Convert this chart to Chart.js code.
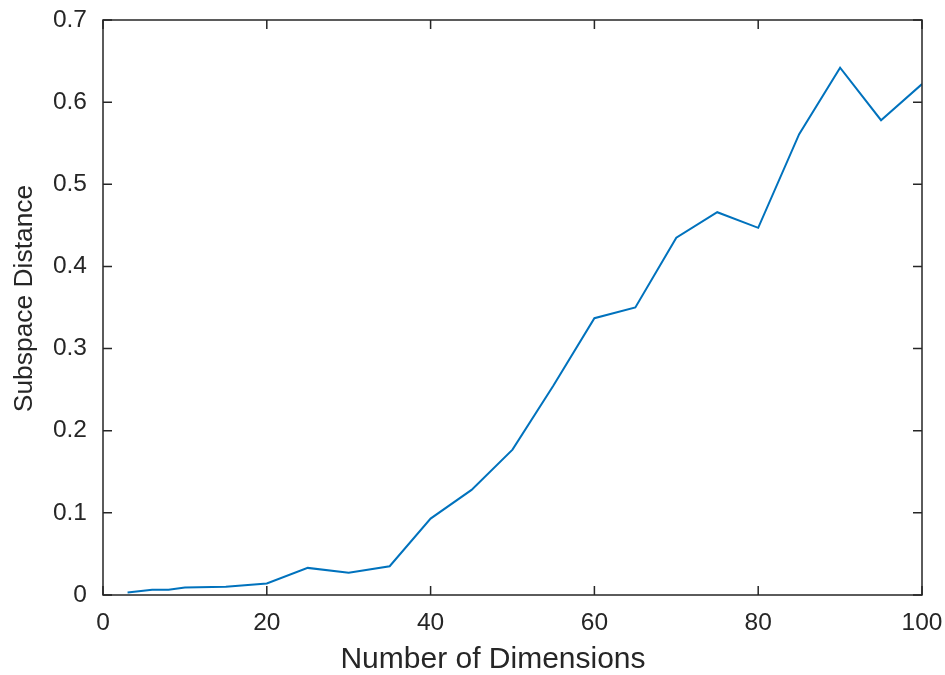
<!DOCTYPE html>
<html>
<head>
<meta charset="utf-8">
<script src="https://cdn.jsdelivr.net/npm/chart.js@4.4.1/dist/chart.umd.min.js"></script>
<style>
  html, body { margin: 0; padding: 0; background: #fff; }
  canvas { display: block; }
</style>
</head>
<body>
<canvas id="chart" width="945" height="675"></canvas>
<script>
// --- data ---
const dimensions = [3, 6, 8, 10, 15, 20, 25, 30, 35, 40, 45, 50, 55, 60, 65, 70, 75, 80, 85, 90, 95, 100];
const subspaceDistance = [0.003, 0.0065, 0.0065, 0.009, 0.010, 0.014, 0.033, 0.027, 0.035, 0.093, 0.128, 0.177,
    0.255, 0.337, 0.350, 0.435, 0.466, 0.447, 0.561, 0.642, 0.578, 0.622];
const xTicks = [0, 20, 40, 60, 80, 100];
const yTicks = [0, 0.1, 0.2, 0.3, 0.4, 0.5, 0.6, 0.7];
const xTitle = 'Number of Dimensions';
const yTitle = 'Subspace Distance';

const axisColor = '#262626';
const lineColor = '#0072BD';
const fontFamily = '"Liberation Sans", Arial, Helvetica, sans-serif';

// box around the axes with inward tick marks on all four sides (matlab style),
// plus the axis labels, which matlab places a bit off the axes centre
const boxPlugin = {
    id: 'matlabBox',
    afterDraw(chart) {
        const { ctx, chartArea: a, scales } = chart;
        const len = 9;
        ctx.save();
        ctx.strokeStyle = axisColor;
        ctx.lineWidth = 1.5;
        ctx.strokeRect(a.left, a.top, a.right - a.left, a.bottom - a.top);
        ctx.beginPath();
        scales.x.ticks.forEach(t => {
            const px = scales.x.getPixelForValue(t.value);
            ctx.moveTo(px, a.bottom); ctx.lineTo(px, a.bottom - len);
            ctx.moveTo(px, a.top); ctx.lineTo(px, a.top + len);
        });
        scales.y.ticks.forEach(t => {
            const py = scales.y.getPixelForValue(t.value);
            ctx.moveTo(a.left, py); ctx.lineTo(a.left + len, py);
            ctx.moveTo(a.right, py); ctx.lineTo(a.right - len, py);
        });
        ctx.stroke();

        ctx.fillStyle = axisColor;
        ctx.textAlign = 'center';
        ctx.textBaseline = 'alphabetic';
        ctx.font = '30px ' + fontFamily;
        ctx.fillText(xTitle, 493, 668);

        ctx.translate(32, 298.5);
        ctx.rotate(-Math.PI / 2);
        ctx.font = '26.4px ' + fontFamily;
        ctx.fillText(yTitle, 0, 0);
        ctx.restore();
    }
};

const noPad = s => { s.paddingLeft = 0; s.paddingRight = 0; s.paddingTop = 0; s.paddingBottom = 0; };

new Chart(document.getElementById('chart').getContext('2d'), {
    type: 'line',
    data: {
        datasets: [{
            data: dimensions.map((d, i) => ({ x: d, y: subspaceDistance[i] })),
            borderColor: lineColor,
            borderWidth: 2,
            pointRadius: 0,
            fill: false,
            tension: 0
        }]
    },
    options: {
        responsive: false,
        animation: false,
        layout: { padding: { top: 20, right: 23, left: 0, bottom: 0 } },
        plugins: { legend: { display: false }, tooltip: { enabled: false } },
        scales: {
            x: {
                type: 'linear', min: 0, max: 100,
                afterFit: s => { s.height = 80; noPad(s); },
                afterBuildTicks: s => { s.ticks = xTicks.map(v => ({ value: v })); },
                grid: { display: false, drawTicks: false },
                border: { display: false },
                ticks: { color: axisColor, font: { family: fontFamily, size: 24.5 }, padding: 14, maxRotation: 0 }
            },
            y: {
                type: 'linear', min: 0, max: 0.7,
                afterFit: s => { s.width = 103; noPad(s); },
                afterBuildTicks: s => { s.ticks = yTicks.map(v => ({ value: v })); },
                grid: { display: false, drawTicks: false },
                border: { display: false },
                ticks: { color: axisColor, font: { family: fontFamily, size: 24.5 }, padding: 16,
                    callback: v => v === 0 ? '0' : v.toFixed(1) }
            }
        }
    },
    plugins: [boxPlugin]
});
</script>
</body>
</html>
